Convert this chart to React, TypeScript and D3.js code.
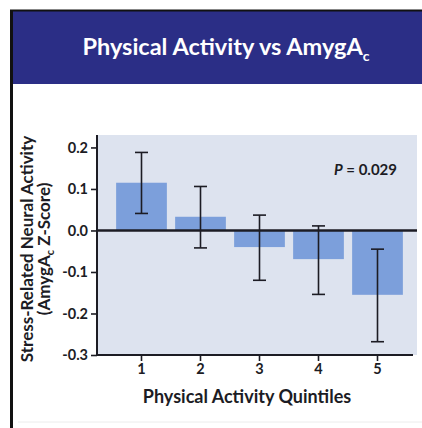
import React, { useRef, useEffect } from "react";
import * as d3 from "d3";

const quintiles = ["1", "2", "3", "4", "5"];
const means = [0.115, 0.033, -0.04, -0.069, -0.155];
const ciLow = [0.041, -0.042, -0.12, -0.154, -0.268];
const ciHigh = [0.188, 0.106, 0.037, 0.011, -0.045];
const yTicks = [0.2, 0.1, 0.0, -0.1, -0.2, -0.3];

export default function App() {
  const svgRef = useRef<SVGSVGElement>(null);
  const width = 422;
  const height = 428;
  const left = 97;
  const right = 417;
  const top = 135;
  const bottom = 355;
  const font = "Lato, 'Open Sans', sans-serif";
  const navy = "#2b2e86";
  const ink = "#1c1c24";

  useEffect(() => {
    const svg = d3.select(svgRef.current);
    svg.selectAll("*").remove();

    const data = quintiles.map((q, i) => ({ q, m: means[i], lo: ciLow[i], hi: ciHigh[i] }));

    const x = d3.scaleBand<string>()
      .domain(quintiles)
      .range([112, 407])
      .paddingInner(0.14)
      .paddingOuter(0.07);

    const y = d3.scaleLinear()
      .domain([-0.3, 0.23])
      .range([bottom, top]);

    // frame + header
    svg.append("rect").attr("width", width).attr("height", height).attr("fill", "#fff");
    svg.append("rect")
      .attr("x", 10).attr("y", 10).attr("width", width - 10).attr("height", 74)
      .attr("fill", navy);
    svg.append("line")
      .attr("x1", 10).attr("x2", width).attr("y1", 10.5).attr("y2", 10.5)
      .attr("stroke", "#111").attr("stroke-width", 2);
    svg.append("rect")
      .attr("x", 10).attr("y", 10).attr("width", 3).attr("height", height - 10)
      .attr("fill", "#111");
    svg.append("line")
      .attr("x1", 18).attr("x2", width).attr("y1", 422).attr("y2", 422)
      .attr("stroke", "#ececec").attr("stroke-width", 1);

    const title = svg.append("text")
      .attr("x", 226).attr("y", 55)
      .attr("text-anchor", "middle")
      .attr("fill", "#fff")
      .attr("font-family", font)
      .attr("font-weight", 700)
      .attr("font-size", 23.5);
    title.append("tspan").text("Physical Activity vs AmygA");
    title.append("tspan").attr("dy", 6).attr("font-size", 14).text("c");

    // plot background
    svg.append("rect")
      .attr("x", left).attr("y", top)
      .attr("width", right - left).attr("height", bottom - top)
      .attr("fill", "#dde3ef");

    // bars
    svg.append("g")
      .selectAll("rect")
      .data(data)
      .join("rect")
      .attr("x", d => x(d.q)!)
      .attr("width", x.bandwidth())
      .attr("y", d => y(Math.max(0, d.m)))
      .attr("height", d => Math.abs(y(d.m) - y(0)))
      .attr("fill", "#7c9fdb");

    // zero line
    svg.append("line")
      .attr("x1", left).attr("x2", right)
      .attr("y1", y(0)).attr("y2", y(0))
      .attr("stroke", ink).attr("stroke-width", 2.5);

    // error bars
    const cap = 6.5;
    const eb = svg.append("g")
      .attr("stroke", ink).attr("stroke-width", 1.6).attr("fill", "none");
    data.forEach(d => {
      const cx = x(d.q)! + x.bandwidth() / 2;
      eb.append("line").attr("x1", cx).attr("x2", cx).attr("y1", y(d.lo)).attr("y2", y(d.hi));
      eb.append("line").attr("x1", cx - cap).attr("x2", cx + cap).attr("y1", y(d.lo)).attr("y2", y(d.lo));
      eb.append("line").attr("x1", cx - cap).attr("x2", cx + cap).attr("y1", y(d.hi)).attr("y2", y(d.hi));
    });

    // y axis
    const yAxis = svg.append("g")
      .attr("transform", `translate(${left},0)`)
      .call(d3.axisLeft(y).tickValues(yTicks).tickFormat(d => (+d).toFixed(1)).tickSize(6).tickSizeOuter(0).tickPadding(3));
    yAxis.select(".domain").remove();
    yAxis.selectAll("line").attr("stroke", ink).attr("stroke-width", 1.6);
    yAxis.selectAll("text")
      .attr("fill", ink)
      .attr("font-family", font)
      .attr("font-weight", 700)
      .attr("font-size", 14.5);
    svg.append("line")
      .attr("x1", left).attr("x2", left).attr("y1", top).attr("y2", bottom + 1)
      .attr("stroke", ink).attr("stroke-width", 2);

    // x axis
    const xAxis = svg.append("g")
      .attr("transform", `translate(0,${bottom})`)
      .call(d3.axisBottom(x).tickSize(6).tickSizeOuter(0).tickPadding(3));
    xAxis.select(".domain").remove();
    xAxis.selectAll("line").attr("stroke", ink).attr("stroke-width", 1.6);
    xAxis.selectAll("text")
      .attr("fill", ink)
      .attr("font-family", font)
      .attr("font-weight", 700)
      .attr("font-size", 14.5);
    svg.append("line")
      .attr("x1", left - 1).attr("x2", 413).attr("y1", bottom).attr("y2", bottom)
      .attr("stroke", ink).attr("stroke-width", 2);

    // axis titles
    svg.append("text")
      .attr("x", 247).attr("y", 403)
      .attr("text-anchor", "middle")
      .attr("fill", ink)
      .attr("font-family", font)
      .attr("font-weight", 700)
      .attr("font-size", 18)
      .text("Physical Activity Quintiles");

    const yl = svg.append("g")
      .attr("transform", "translate(0,249) rotate(-90)")
      .attr("fill", ink)
      .attr("font-family", font)
      .attr("font-weight", 700)
      .attr("font-size", 17)
      .attr("text-anchor", "middle");
    yl.append("text").attr("x", 0).attr("y", 33).text("Stress-Related Neural Activity");
    const l2 = yl.append("text").attr("x", 0).attr("y", 50);
    l2.append("tspan").text("(AmygA");
    l2.append("tspan").attr("dy", 4).attr("font-size", 11).text("c");
    l2.append("tspan").attr("dy", -4).text(" Z-Score)");

    // p value
    const p = svg.append("text")
      .attr("x", 397).attr("y", 175)
      .attr("text-anchor", "end")
      .attr("fill", ink)
      .attr("font-family", font)
      .attr("font-weight", 700)
      .attr("font-size", 15);
    p.append("tspan").attr("font-style", "italic").text("P");
    p.append("tspan").text(" = 0.029");
  }, []);

  return (
    <svg
      ref={svgRef}
      width={width}
      height={height}
      style={{ position: "absolute", left: 0, top: 0 }}
    />
  );
}
